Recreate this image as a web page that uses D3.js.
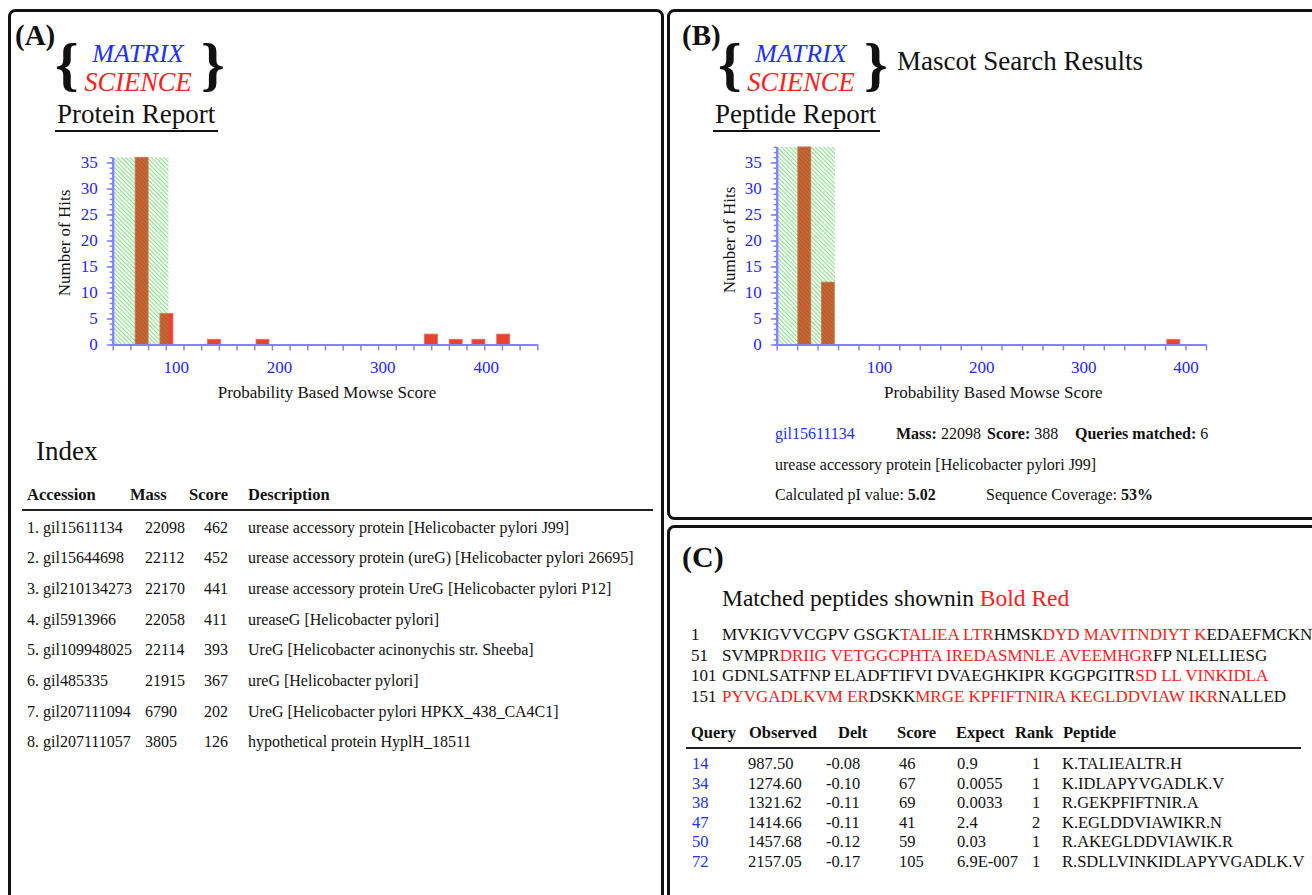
<!DOCTYPE html>
<html>
<head>
<meta charset="utf-8">
<script src="https://cdn.jsdelivr.net/npm/d3@7"></script>
<style>
  body { margin: 0; background: #fff; }
  svg { display: block; font-family: "Liberation Serif", "Times New Roman", serif; }
</style>
</head>
<body>
<div id="fig"></div>
<script>
// --- (A) protein report histogram ---
const proteinBinScores = [67, 91, 137, 184, 347, 371, 393, 417];
const proteinBinHits = [36, 6, 1, 1, 2, 1, 1, 2];
const proteinThreshold = 93;
const proteinScoreRange = [39, 450];
const proteinHitsMax = 36;

// --- (B) peptide report histogram ---
const peptideBinScores = [27, 50, 388];
const peptideBinHits = [38, 12, 1];
const peptideThreshold = 57;
const peptideScoreRange = [0, 420];
const peptideHitsMax = 38;

const scoreTickLabels = [100, 200, 300, 400];
const hitTickLabels = [0, 5, 10, 15, 20, 25, 30, 35];

// --- (A) index table ---
const indexHeader = ["Accession", "Mass", "Score", "Description"];
const indexAccessions = ["1. gil15611134", "2. gil15644698", "3. gil210134273", "4. gil5913966",
  "5. gil109948025", "6. gil485335", "7. gil207111094", "8. gil207111057"];
const indexMasses = [22098, 22112, 22170, 22058, 22114, 21915, 6790, 3805];
const indexScores = [462, 452, 441, 411, 393, 367, 202, 126];
const indexDescriptions = [
  "urease accessory protein [Helicobacter pylori J99]",
  "urease accessory protein (ureG) [Helicobacter pylori 26695]",
  "urease accessory protein UreG [Helicobacter pylori P12]",
  "ureaseG [Helicobacter pylori]",
  "UreG [Helicobacter acinonychis str. Sheeba]",
  "ureG [Helicobacter pylori]",
  "UreG [Helicobacter pylori HPKX_438_CA4C1]",
  "hypothetical protein HyplH_18511"
];

// --- (B) hit summary ---
const hitAccession = "gil15611134";
const hitMass = 22098;
const hitScore = 388;
const hitQueries = 6;
const hitDescription = "urease accessory protein [Helicobacter pylori J99]";
const hitPI = "5.02";
const hitCoverage = "53%";

// --- (C) sequence coverage, [text, matched] ---
const sequenceStarts = [1, 51, 101, 151];
const sequenceRows = [
  [["MVKIGVVCGPV GSGK", false], ["TALIEA LTR", true], ["HMSK", false], ["DYD MAVITNDIYT K", true], ["EDAEFMCKN", false]],
  [["SVMPR", false], ["DRIIG VETGGCPHTA IREDASMNLE AVEEMHGR", true], ["FP NLELLIESG", false]],
  [["GDNLSATFNP ELADFTIFVI DVAEGHKIPR KGGPGITR", false], ["SD LL VINKIDLA", true]],
  [["PYVGADLKVM ER", true], ["DSKK", false], ["MRGE KPFIFTNIRA KEGLDDVIAW IKR", true], ["NALLED", false]]
];

// --- (C) matched peptide table ---
const peptideHeader = ["Query", "Observed", "Delt", "Score", "Expect", "Rank", "Peptide"];
const peptideQueries = [14, 34, 38, 47, 50, 72];
const peptideObserved = ["987.50", "1274.60", "1321.62", "1414.66", "1457.68", "2157.05"];
const peptideDelta = ["-0.08", "-0.10", "-0.11", "-0.11", "-0.12", "-0.17"];
const peptideScores = [46, 67, 69, 41, 59, 105];
const peptideExpect = ["0.9", "0.0055", "0.0033", "2.4", "0.03", "6.9E-007"];
const peptideRanks = [1, 1, 1, 2, 1, 1];
const peptideSequences = ["K.TALIEALTR.H", "K.IDLAPYVGADLK.V", "R.GEKPFIFTNIR.A",
  "K.EGLDDVIAWIKR.N", "R.AKEGLDDVIAWIK.R", "R.SDLLVINKIDLAPYVGADLK.V"];

const BLUE = "#2030ff", RED = "#ff2020", AXIS = "#8282ff", TICKTXT = "#2626ff";

const svg = d3.select("#fig").append("svg").attr("width", 1312).attr("height", 895);

// hatch used for the non-significant score region
const pat = svg.append("defs").append("pattern")
  .attr("id", "hatch")
  .attr("patternUnits", "userSpaceOnUse")
  .attr("width", 3).attr("height", 3)
  .attr("patternTransform", "rotate(-45)");
pat.append("line")
  .attr("x1", 1.5).attr("y1", -1).attr("x2", 1.5).attr("y2", 4)
  .attr("stroke", "#3cc43c").attr("stroke-width", 1.3).attr("stroke-opacity", 0.55);

// panel frames
function frame(x, y, w, h) {
  svg.append("rect").attr("x", x).attr("y", y).attr("width", w).attr("height", h)
    .attr("rx", 6).attr("fill", "none").attr("stroke", "#111").attr("stroke-width", 3);
}
frame(9.5, 10.5, 653, 1000);
frame(668.5, 10.5, 700, 508);
frame(668.5, 526.5, 700, 500);

// text helper: parts = [[text, {bold, fill}], ...]
function rich(x, y, size, parts) {
  const t = svg.append("text").attr("x", x).attr("y", y).attr("font-size", size).attr("fill", "#111");
  parts.forEach(([s, o = {}]) => {
    const sp = t.append("tspan").text(s);
    if (o.bold) sp.attr("font-weight", "bold");
    if (o.fill) sp.attr("fill", o.fill);
    if (o.italic) sp.attr("font-style", "italic");
  });
  return t;
}

function logo(dx, reportTitle, ulFrom, ulTo, panel, panelX) {
  rich(panelX, 45, 29, [[panel, { bold: true }]]);
  rich(dx + 55, 84, 60, [["{", { bold: true }]]);
  rich(dx + 201, 84, 60, [["}", { bold: true }]]);
  rich(dx + 138, 62, 26, [["MATRIX", { italic: true, fill: BLUE }]]).attr("text-anchor", "middle");
  rich(dx + 138, 90.5, 26.5, [["SCIENCE", { italic: true, fill: RED }]]).attr("text-anchor", "middle");
  rich(ulFrom + 2, 123, 27, [[reportTitle]]);
  svg.append("line").attr("x1", ulFrom).attr("x2", ulTo).attr("y1", 131).attr("y2", 131)
    .attr("stroke", "#111").attr("stroke-width", 2);
}

function histogram(cfg) {
  const g = svg.append("g");
  const x = d3.scaleLinear().domain(cfg.range).range(cfg.xRange);
  const y = d3.scaleLinear().domain([0, cfg.max]).range([344.5, 344.5 - cfg.max * 5.2]);
  const bars = cfg.scores.map((s, i) => ({ s, h: cfg.hits[i] }));

  g.selectAll(".bar").data(bars).join("rect")
    .attr("class", "bar")
    .attr("x", d => x(d.s) - 6.5)
    .attr("width", 13)
    .attr("y", d => y(d.h))
    .attr("height", d => y(0) - y(d.h))
    .attr("fill", "#e9432f")
    .attr("stroke", "#f26b57").attr("stroke-width", 0.8);

  // hatched region drawn over the bars
  g.append("rect")
    .attr("x", x(cfg.range[0]))
    .attr("y", y(cfg.max))
    .attr("width", x(cfg.threshold) - x(cfg.range[0]))
    .attr("height", y(0) - y(cfg.max))
    .attr("fill", "url(#hatch)");

  const n = cfg.intervals;
  const minor = d3.range(n + 1).map(i => cfg.range[0] + i * (cfg.range[1] - cfg.range[0]) / n);

  const xAxis = g.append("g").attr("transform", "translate(0,344.5)")
    .call(d3.axisBottom(x).tickValues(minor).tickSize(6).tickSizeOuter(0).tickFormat(""));
  const xLab = g.append("g").attr("transform", "translate(0,344.5)")
    .call(d3.axisBottom(x).tickValues(scoreTickLabels).tickSize(0).tickPadding(16).tickFormat(d3.format("d")));
  xLab.select(".domain").remove();

  const yMinor = g.append("g").attr("transform", `translate(${cfg.xRange[0]},0)`)
    .call(d3.axisLeft(y).tickValues(d3.range(0, cfg.max + 1)).tickSize(3).tickSizeOuter(0).tickFormat(""));
  const yAxis = g.append("g").attr("transform", `translate(${cfg.xRange[0]},0)`)
    .call(d3.axisLeft(y).tickValues(hitTickLabels).tickSize(6).tickPadding(9).tickSizeOuter(0));

  [xAxis, yMinor, yAxis].forEach(a => {
    a.select(".domain").attr("stroke", AXIS).attr("stroke-width", 2);
    a.selectAll(".tick line").attr("stroke", AXIS).attr("stroke-width", 1.5);
  });
  [xLab, yAxis].forEach(a => {
    a.selectAll("text").attr("fill", TICKTXT).attr("font-size", 17)
      .attr("font-family", '"Liberation Serif", serif');
  });

  g.append("text")
    .attr("transform", `translate(${cfg.yLabelX},${cfg.yLabelY}) rotate(-90)`)
    .attr("text-anchor", "middle").attr("font-size", 17).attr("fill", "#111")
    .text("Number of Hits");
  g.append("text")
    .attr("x", (cfg.xRange[0] + cfg.xRange[1]) / 2 + 2).attr("y", 398)
    .attr("text-anchor", "middle").attr("font-size", 17).attr("fill", "#111")
    .text("Probability Based Mowse Score");
}

// ===== Panel A =====
logo(0, "Protein Report", 55, 218, "(A)", 15);
histogram({
  scores: proteinBinScores, hits: proteinBinHits, threshold: proteinThreshold,
  range: proteinScoreRange, max: proteinHitsMax, intervals: 24,
  xRange: [112.7, 537.3], yLabelX: 70, yLabelY: 243
});

rich(36, 460, 27, [["Index"]]);
const idxCols = [27, 130, 189, 248];
const idxValCols = [27, 145, 204, 248];
indexHeader.forEach((h, i) => rich(idxCols[i], 500, 16.5, [[h, { bold: true }]]));
svg.append("line").attr("x1", 22).attr("x2", 653).attr("y1", 510).attr("y2", 510)
  .attr("stroke", "#222").attr("stroke-width", 2);
indexAccessions.forEach((acc, i) => {
  const yy = 532.5 + i * 30.7;
  [acc, indexMasses[i], indexScores[i], indexDescriptions[i]].forEach((v, j) =>
    rich(idxValCols[j], yy, 16, [[String(v)]]));
});

// ===== Panel B =====
logo(663, "Peptide Report", 713, 880, "(B)", 682);
rich(897, 70, 27, [["Mascot Search Results"]]);
histogram({
  scores: peptideBinScores, hits: peptideBinHits, threshold: peptideThreshold,
  range: peptideScoreRange, max: peptideHitsMax, intervals: 21,
  xRange: [776.7, 1206], yLabelX: 735, yLabelY: 240
});

rich(775, 439, 16, [[hitAccession, { fill: BLUE }]]);
rich(896, 439, 16, [["Mass: ", { bold: true }], [String(hitMass)]]);
rich(987, 439, 16, [["Score: ", { bold: true }], [String(hitScore)]]);
rich(1075, 439, 16, [["Queries matched: ", { bold: true }], [String(hitQueries)]]);
rich(775, 470, 16, [[hitDescription]]);
rich(775, 500, 16, [["Calculated pI value: "], [hitPI, { bold: true }]]);
rich(986, 500, 16, [["Sequence Coverage: "], [hitCoverage, { bold: true }]]);

// ===== Panel C =====
rich(682, 567, 30, [["(C)", { bold: true }]]);
rich(722, 606, 23.5, [["Matched peptides shownin "], ["Bold Red", { fill: RED }]]);
sequenceRows.forEach((row, i) => {
  const yy = 640 + i * 20.7;
  rich(691, yy, 17, [[String(sequenceStarts[i])]]);
  rich(722, yy, 17, row.map(([s, m]) => [s, m ? { fill: RED } : {}]));
});

const pepHeadX = [691, 749, 838, 897, 956, 1015, 1063];
const pepValX = [692, 748, 826, 899, 957, 1032, 1062];
peptideHeader.forEach((h, i) => rich(pepHeadX[i], 738, 16.5, [[h, { bold: true }]]));
svg.append("line").attr("x1", 686).attr("x2", 1301).attr("y1", 748).attr("y2", 748)
  .attr("stroke", "#222").attr("stroke-width", 2);
peptideQueries.forEach((q, i) => {
  const yy = 769 + i * 19.6;
  rich(pepValX[0], yy, 16.5, [[String(q), { fill: BLUE }]]);
  [peptideObserved[i], peptideDelta[i], peptideScores[i], peptideExpect[i], peptideRanks[i], peptideSequences[i]]
    .forEach((v, j) => rich(pepValX[j + 1], yy, 16.5, [[String(v)]]));
});
</script>
</body>
</html>
